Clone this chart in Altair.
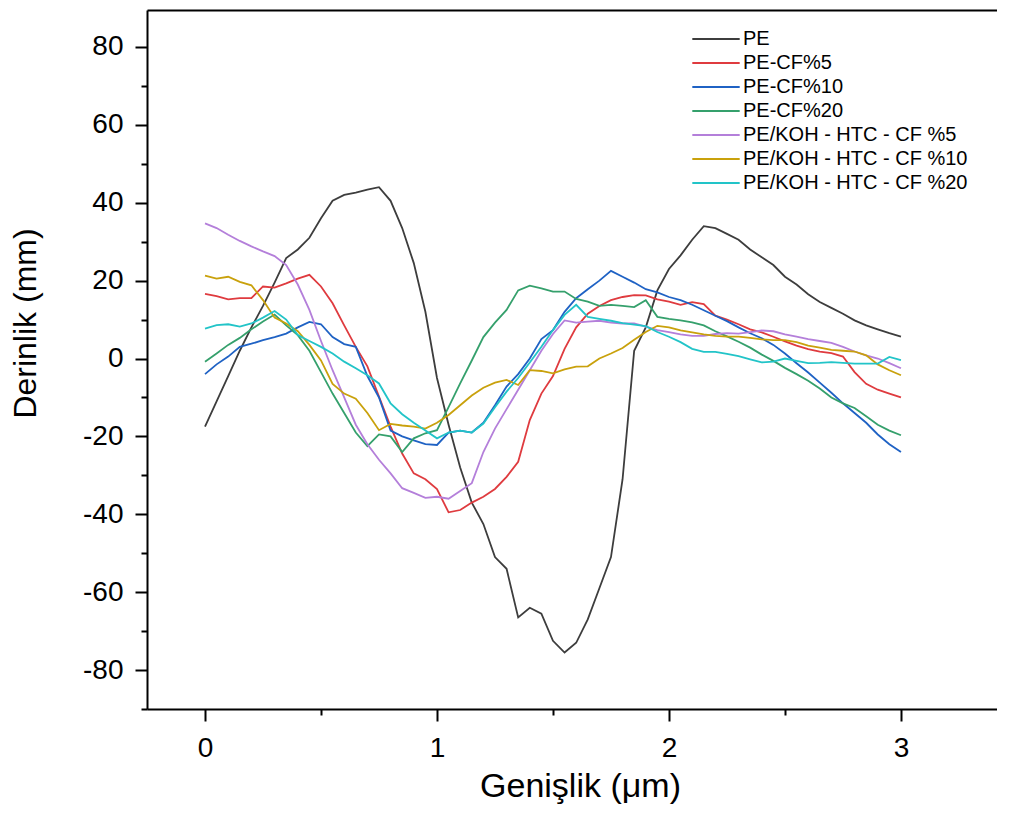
import altair as alt
import pandas as pd

# sample positions along the width (µm)
x_pos = [0.00, 0.05, 0.10, 0.15, 0.20, 0.25, 0.30, 0.35, 0.40, 0.45,
         0.50, 0.55, 0.60, 0.65, 0.70, 0.75, 0.80, 0.85, 0.90, 0.95,
         1.00, 1.05, 1.10, 1.15, 1.20, 1.25, 1.30, 1.35, 1.40, 1.45,
         1.50, 1.55, 1.60, 1.65, 1.70, 1.75, 1.80, 1.85, 1.90, 1.95,
         2.00, 2.05, 2.10, 2.15, 2.20, 2.25, 2.30, 2.35, 2.40, 2.45,
         2.50, 2.55, 2.60, 2.65, 2.70, 2.75, 2.80, 2.85, 2.90, 2.95,
         3.00]

pe = [-17.5, -11.0, -4.5, 2.0, 8.0, 13.5, 19.5, 25.8, 28.0, 31.0,
      36.0, 40.5, 42.0, 42.6, 43.4, 44.0, 40.5, 33.5, 24.5, 12.0,
      -5.0, -17.0, -28.0, -37.0, -42.5, -51.0, -54.0, -66.5, -64.0, -65.5,
      -72.5, -75.5, -73.0, -67.0, -59.0, -51.0, -31.0, 2.0, 8.0, 17.5,
      23.0, 26.5, 30.5, 34.0, 33.5, 32.0, 30.5, 28.0, 26.0, 24.0,
      21.0, 19.0, 16.5, 14.5, 13.0, 11.5, 9.8, 8.5, 7.5, 6.5,
      5.6]

pe_cf5 = [16.6, 16.0, 15.2, 15.5, 15.5, 18.5, 18.2, 19.3, 20.5, 21.5,
          18.5, 14.2, 8.5, 3.0, -2.0, -9.8, -17.5, -24.4, -29.5, -31.0,
          -33.5, -39.5, -38.9, -37.0, -35.5, -33.5, -30.4, -26.5, -15.8, -9.0,
          -4.5, 2.5, 8.0, 11.5, 13.5, 15.0, 15.8, 16.3, 16.2, 15.2,
          14.6, 13.8, 14.5, 14.0, 11.0, 10.0, 8.8, 7.5, 6.7, 5.6,
          4.4, 3.3, 2.4, 1.8, 1.4, 0.5, -3.5, -6.5, -8.0, -9.0,
          -10.0]

pe_cf10 = [-4.0, -1.5, 0.5, 3.0, 3.8, 4.7, 5.5, 6.4, 8.0, 9.4,
           8.8, 5.5, 3.7, 3.0, -4.5, -10.0, -18.5, -20.0, -21.0, -22.0,
           -22.2, -19.0, -18.5, -19.0, -16.5, -12.0, -7.2, -4.0, 0.0, 5.0,
           7.3, 12.0, 15.5, 17.8, 20.0, 22.5, 21.0, 19.5, 17.8, 17.0,
           15.8, 15.0, 13.8, 12.4, 11.0, 9.6, 8.0, 6.5, 5.2, 3.5,
           1.3, -1.2, -3.6, -6.2, -8.8, -11.5, -14.0, -16.5, -19.5, -22.0,
           -24.0]

pe_cf20 = [-0.8, 1.3, 3.5, 5.3, 7.5, 9.5, 11.3, 8.5, 6.0, 2.0,
           -3.5, -9.0, -14.0, -19.0, -22.5, -19.5, -20.0, -24.0, -20.5, -19.2,
           -18.4, -12.5, -6.4, -0.5, 5.5, 9.2, 12.5, 17.5, 18.7, 18.0,
           17.2, 17.2, 15.3, 14.6, 13.5, 13.8, 13.5, 13.2, 15.0, 10.7,
           10.2, 9.8, 9.3, 8.5, 7.0, 5.7, 4.3, 2.8, 1.0, -0.6,
           -2.4, -4.0, -5.7, -7.7, -10.0, -11.5, -12.7, -14.8, -17.0, -18.5,
           -19.7]

koh_cf5 = [34.7, 33.5, 31.8, 30.2, 28.8, 27.5, 26.3, 24.0, 19.0, 12.5,
           4.5, -3.0, -10.0, -17.0, -22.0, -26.0, -29.5, -33.3, -34.5, -35.8,
           -35.5, -36.0, -34.0, -32.0, -24.0, -18.0, -13.0, -8.0, -3.0, 2.0,
           6.3, 9.8, 9.2, 9.5, 9.7, 9.2, 9.0, 9.0, 8.2, 7.3,
           6.8, 6.2, 5.8, 5.8, 6.3, 6.5, 6.4, 6.8, 7.2, 7.0,
           6.2, 5.6, 5.0, 4.5, 4.0, 3.0, 1.8, 0.8, 0.0, -1.2,
           -2.5]

koh_cf10 = [21.3, 20.5, 21.0, 19.7, 18.8, 15.0, 10.5, 9.0, 7.0, 3.5,
            -0.5, -6.5, -9.0, -10.3, -14.0, -18.4, -16.8, -17.2, -17.5, -18.0,
            -16.5, -14.5, -12.0, -9.5, -7.5, -6.2, -5.5, -6.8, -3.0, -3.2,
            -3.8, -2.8, -2.1, -2.0, 0.0, 1.3, 2.7, 4.8, 6.8, 8.4,
            8.0, 7.2, 6.7, 6.2, 5.8, 5.6, 5.6, 5.3, 4.9, 4.7,
            4.7, 4.2, 3.3, 2.8, 2.2, 2.0, 1.8, 0.8, -1.5, -3.0,
            -4.3]

koh_cf20 = [7.7, 8.6, 8.8, 8.2, 9.0, 10.5, 12.2, 10.0, 6.0, 4.5,
            3.0, 1.3, -0.8, -2.5, -4.3, -6.4, -11.5, -14.3, -16.5, -18.5,
            -20.5, -19.0, -18.5, -19.0, -16.7, -12.5, -8.5, -5.0, -1.0, 3.0,
            7.3, 11.2, 13.8, 10.7, 10.2, 9.7, 9.1, 8.7, 8.3, 6.8,
            5.6, 4.2, 2.5, 1.7, 1.7, 1.2, 0.6, -0.2, -1.0, -0.8,
            0.0, -0.6, -1.2, -1.1, -0.9, -1.1, -1.3, -1.3, -1.3, 0.4,
            -0.4]

series_names = ["PE", "PE-CF%5", "PE-CF%10", "PE-CF%20",
                "PE/KOH - HTC - CF %5", "PE/KOH - HTC - CF %10",
                "PE/KOH - HTC - CF %20"]
series_values = [pe, pe_cf5, pe_cf10, pe_cf20, koh_cf5, koh_cf10, koh_cf20]
series_colors = ["#3d3d3d", "#df3b3f", "#1f62c4", "#35a06c",
                 "#b47fda", "#c9a10c", "#22c4c8"]

y_tick_values = [-90, -80, -70, -60, -50, -40, -30, -20, -10, 0,
                 10, 20, 30, 40, 50, 60, 70, 80]
x_tick_values = [0, 0.5, 1, 1.5, 2, 2.5, 3]

rows = []
for k, (name, vals) in enumerate(zip(series_names, series_values)):
    for i, (xv, yv) in enumerate(zip(x_pos, vals)):
        rows.append({"x": xv, "y": yv, "series": name, "order": k, "i": i})
df = pd.DataFrame(rows)

FONT = "Liberation Sans"

x_scale = alt.Scale(domain=[-0.25, 3.414], nice=False, zero=False)
y_scale = alt.Scale(domain=[-90, 89.5], nice=False, zero=False)

lines = alt.Chart(df).mark_line(strokeWidth=1.8).encode(
    x=alt.X("x:Q", scale=x_scale,
            axis=alt.Axis(orient="bottom", values=x_tick_values,
                          labelExpr="datum.value % 1 === 0 ? '' + datum.value : ''",
                          tickSize={"condition": {"test": "datum.value % 1 === 0", "value": 12}, "value": 6},
                          labelPadding=13, title="Genişlik (μm)",
                          titleFontSize=34,
                          titleX=433, titleY=87, titleBaseline="alphabetic",
                          titleAlign="center")),
    y=alt.Y("y:Q", scale=y_scale,
            axis=alt.Axis(orient="left", values=y_tick_values,
                          labelExpr="datum.value % 20 === 0 ? '' + datum.value : ''",
                          tickSize={"condition": {"test": "datum.value % 20 === 0", "value": 12}, "value": 6},
                          labelPadding=12, title="Derinlik (mm)",
                          titleAngle=270, titleX=-112, titleY=313,
                          titleBaseline="alphabetic", titleAlign="center")),
    color=alt.Color("series:N", sort=series_names,
                    scale=alt.Scale(domain=series_names, range=series_colors),
                    legend=alt.Legend(title=None, orient="none", legendX=559, legendY=19,
                                      symbolType="M-5.4,0H5.4", symbolSize=77,
                                      symbolStrokeWidth=2, labelFont=FONT,
                                      labelFontSize=20, labelColor="black",
                                      labelOffset=17, rowPadding=4, padding=0,
                                      labelLimit=400)),
    order=alt.Order("i:Q"),
    detail="series:N",
)

top_frame = alt.Chart(df).mark_point(opacity=0).encode(
    x=alt.X("x:Q", scale=x_scale,
            axis=alt.Axis(orient="top", labels=False, ticks=False, title=None,
                          domain=True)),
    y=alt.Y("y:Q", scale=y_scale),
)

chart = alt.layer(lines, top_frame).properties(
    width=850, height=699,
    autosize=alt.AutoSizeParams(type="none"),
    padding={"left": 139, "top": 2, "right": 0, "bottom": 108},
    background="white",
).configure_axis(
    labelFont=FONT, labelFontSize=28, labelColor="black",
    titleFont=FONT, titleFontSize=32, titleFontWeight="normal", titleColor="black",
    domainColor="black", domainWidth=2, tickColor="black", tickWidth=2,
    grid=False,
).configure_view(stroke=None)

chart.save("out.html", embed_options={"renderer": "svg", "actions": False})
